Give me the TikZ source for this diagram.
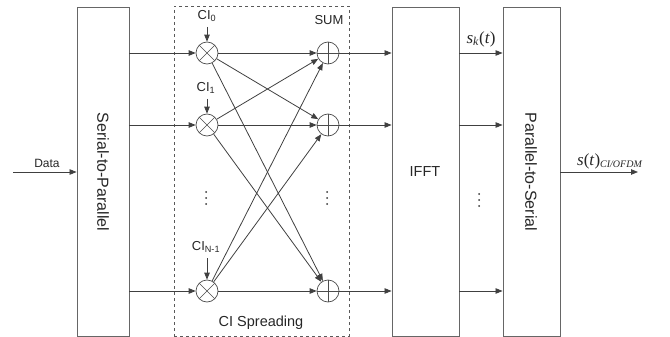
\documentclass[tikz,border=0pt]{standalone}
\usepackage{fontspec}
\setmainfont{Liberation Sans}
\newfontfamily\tms{Liberation Serif}
\usetikzlibrary{arrows.meta}
\begin{document}
\begin{tikzpicture}[x=1pt,y=-1pt,
  ln/.style={draw=black!75,line width=0.8pt},
  arr/.style={ln,-{Triangle[length=7pt,width=5.5pt]}},
  blk/.style={draw=black!60,line width=0.9pt,inner sep=0pt},
  mult/.style={circle,draw=black!70,line width=0.7pt,minimum size=22pt,inner sep=0pt,
    path picture={\draw[black!70,line width=0.6pt]
      (path picture bounding box.south west)--(path picture bounding box.north east)
      (path picture bounding box.north west)--(path picture bounding box.south east);}},
  summ/.style={circle,draw=black!70,line width=0.7pt,minimum size=22pt,inner sep=0pt,
    path picture={\draw[black!70,line width=0.6pt]
      (path picture bounding box.west)--(path picture bounding box.east)
      (path picture bounding box.north)--(path picture bounding box.south);}},
  lbl/.style={font=\fontsize{13}{15}\selectfont,text=black!85,inner sep=0pt},
  big/.style={font=\fontsize{14.5}{17}\selectfont,text=black!85,inner sep=0pt},
  mathl/.style={inner sep=0pt,font=\fontsize{17}{19}\selectfont\tms,text=black!85},
  dotc/.style={fill=black!80,draw=none,circle,inner sep=0pt,minimum size=2pt}
]
\useasboundingbox (0,0) rectangle (670,337);
% blocks
\node[blk,minimum width=52pt,minimum height=329pt] (sp) at (103,171.5) {};
\node[big,font=\fontsize{16}{18}\selectfont,rotate=-90] (sptext) at (103,172) {Serial-to-Parallel};
\node[draw=black!65,dashed,line width=0.8pt,minimum width=175pt,minimum height=330pt,inner sep=0pt] (ci) at (261.5,171) {};
\node[blk,minimum width=67pt,minimum height=329pt] (ifft) at (425.5,171.5) {};
\node[big] (iffttext) at (425,172) {IFFT};
\node[blk,minimum width=57pt,minimum height=329pt] (ps) at (531.5,171.5) {};
\node[big,font=\fontsize{16}{18}\selectfont,rotate=-90] (pstext) at (531,172) {Parallel-to-Serial};
% multipliers and sums
\node[mult] (m0) at (207,53) {};
\node[mult] (m1) at (207,125) {};
\node[mult] (m2) at (207,291) {};
\node[summ] (s0) at (328,53) {};
\node[summ] (s1) at (328,125) {};
\node[summ] (s2) at (328,291) {};
% labels
\node[lbl] (c0) at (207,16) {CI\textsubscript{0}};
\node[lbl] (c1) at (206,88) {CI\textsubscript{1}};
\node[lbl] (c2) at (206,247) {CI\textsubscript{N-1}};
\coordinate (c0a) at (207,27);
\coordinate (c1a) at (207,99);
\coordinate (c2a) at (207,258);
\draw[arr] (c0a) -- (m0);
\draw[arr] (c1a) -- (m1);
\draw[arr] (c2a) -- (m2);
\node[lbl] (sumlbl) at (329,20) {SUM};
\node[big] (cispr) at (261,323) {CI Spreading};
% data input
\coordinate (din) at (13,172);
\draw[arr] (din) -- (din -| sp.west);
\node[lbl,font=\fontsize{12}{14}\selectfont] (data) at (47,163) {Data};
% S/P to multipliers
\draw[arr] (m0 -| sp.east) -- (m0);
\draw[arr] (m1 -| sp.east) -- (m1);
\draw[arr] (m2 -| sp.east) -- (m2);
% spreading network
\foreach \a in {0,1,2}{
  \foreach \b in {0,1,2}{
    \draw[arr] (m\a) -- (s\b);
  }
}
% sums to IFFT
\draw[arr] (s0) -- (s0 -| ifft.west);
\draw[arr] (s1) -- (s1 -| ifft.west);
\draw[arr] (s2) -- (s2 -| ifft.west);
% IFFT to P/S
\draw[arr] (s0 -| ifft.east) -- (s0 -| ps.west);
\draw[arr] (s1 -| ifft.east) -- (s1 -| ps.west);
\draw[arr] (s2 -| ifft.east) -- (s2 -| ps.west);
\node[mathl] (sk) at (481,39) {\textit{s}\textsubscript{\textit{k}}(\textit{t})};
% output
\coordinate (out) at (638,172);
\draw[arr] (out -| ps.east) -- (out);
\node[mathl] (st) at (610,161) {\textit{s}(\textit{t})\textsubscript{\textit{\fontsize{10}{11}\selectfont CI/OFDM}}};
% dots
\foreach \x/\y in {206/198,327/198,479/200}{
  \node[dotc] at (\x,\y-6) {};
  \node[dotc] at (\x,\y) {};
  \node[dotc] at (\x,\y+6) {};
}
\end{tikzpicture}
\end{document}
